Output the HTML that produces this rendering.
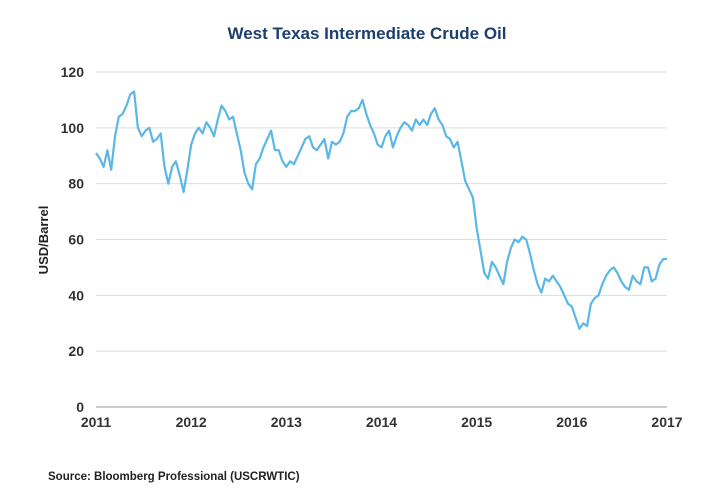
<!DOCTYPE html>
<html><head><meta charset="utf-8"><style>
body{margin:0;background:#fff;font-family:"Liberation Sans",sans-serif;}
svg{display:block}
</style></head><body>
<svg width="720" height="500">
<text x="367" y="39" text-anchor="middle" font-size="17" font-weight="bold" fill="#1c3f6e">West Texas Intermediate Crude Oil</text>
<g id="grid"></g><g id="yt"></g><g id="xt"></g>
<text transform="translate(48,240) rotate(-90)" text-anchor="middle" font-size="13" font-weight="bold" fill="#222">USD/Barrel</text>
<path id="line" fill="none" stroke="#5ab7e6" stroke-width="2.2" stroke-linejoin="round"/>
<text x="48" y="480" font-size="11.5" font-weight="bold" fill="#222">Source: Bloomberg Professional (USCRWTIC)</text>
</svg>
<script>
const yTicks=[0,20,40,60,80,100,120];
const xTicks=[2011,2012,2013,2014,2015,2016,2017];
const prices=[
91,89,86,92,85,97,104,105,108,112,113,100,97,99,100,95,96,98,86,80,86,88,83,77,85,94,98,100,98,
102,100,97,103,108,106,103,104,98,92,84,80,78,87,89,93,96,99,92,92,88,86,88,87,90,
93,96,97,93,92,94,96,89,95,94,95,98,104,106,106,107,110,105,101,98,94,93,97,99,
93,97,100,102,101,99,103,101,103,101,105,107,103,101,97,96,93,95,88,81,78,75,64,56,
48,46,52,50,47,44,52,57,60,59,61,60,55,49,44,41,46,45,47,45,43,40,37,36,
32,28,30,29,37,39,40,44,47,49,50,48,45,43,42,47,45,44,50,50,45,46,51,53,53];
const x0=96,x1=667,y0=407,y1=72;
const X=t=>x0+(t-2011)/6*(x1-x0);
const Y=v=>y0-v/120*(y0-y1);
const ns="http://www.w3.org/2000/svg";
function mk(tag,attrs,parent,txt){const e=document.createElementNS(ns,tag);for(const k in attrs)e.setAttribute(k,attrs[k]);if(txt!==undefined)e.textContent=txt;document.getElementById(parent).appendChild(e);return e;}
yTicks.forEach(v=>{
const l=mk('line',{x1:x0,x2:x1,y1:Y(v),y2:Y(v),stroke:v===0?'#999':'#ddd','stroke-width':1},'grid');


const t=mk('text',{x:84,y:Y(v)+5,'text-anchor':'end','font-size':14,'font-weight':'bold',fill:'#333'},'yt',String(v));


});
xTicks.forEach(v=>{
const t=mk('text',{x:X(v),y:427,'text-anchor':'middle','font-size':14,'font-weight':'bold',fill:'#333'},'xt',String(v));


});
const n=prices.length;
let d='';
prices.forEach((v,i)=>{const t=2011+i/(n-1)*6;d+=(i?'L':'M')+X(t).toFixed(1)+','+Y(v).toFixed(1);});
document.getElementById('line').setAttribute('d',d);
</script>
</body></html>
